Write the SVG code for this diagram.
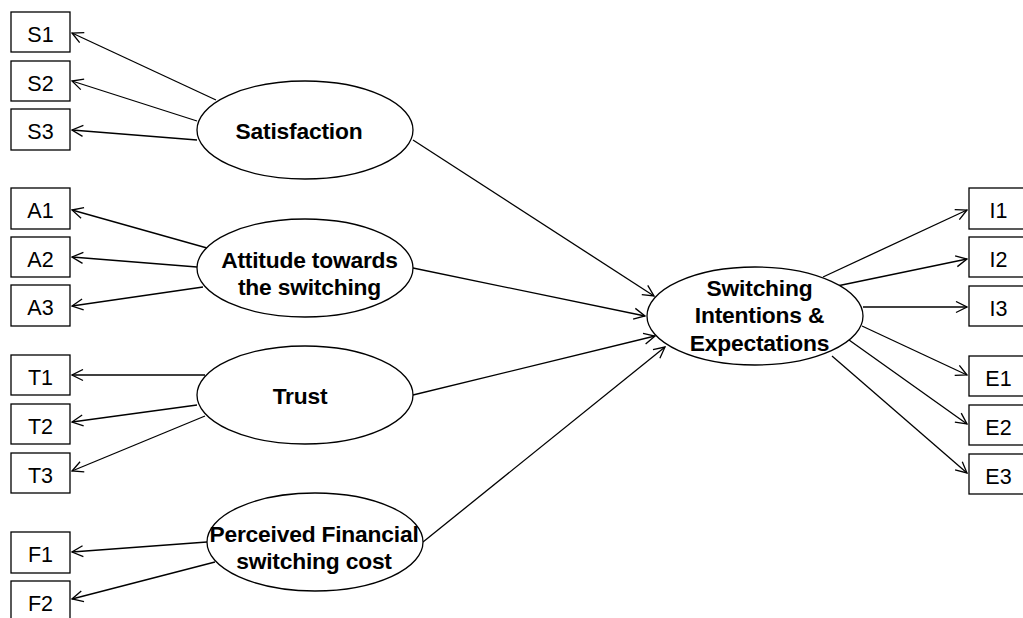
<svg xmlns="http://www.w3.org/2000/svg" width="1023" height="618" viewBox="0 0 1023 618">
  <style>
    .box { fill: #fff; stroke: #000; stroke-width: 1.3; }
    .latent { fill: #fff; stroke: #000; stroke-width: 1.3; }
    .ind { font-family: "Liberation Sans", Arial, sans-serif; font-size: 21.5px; text-anchor: middle; fill: #000; }
    .lbl { font-family: "Liberation Sans", Arial, sans-serif; font-size: 22.8px; font-weight: bold; text-anchor: middle; fill: #000; letter-spacing: -0.2px; }
    .edge { stroke: #000; stroke-width: 1.3; fill: none; marker-end: url(#open); }
  </style>
  <defs>
    <marker id="open" viewBox="0 0 13 13" refX="12" refY="6.5" markerWidth="13" markerHeight="13" markerUnits="userSpaceOnUse" orient="auto">
      <path d="M1,1 L12,6.5 L1,12" fill="none" stroke="#000" stroke-width="1.3"/>
    </marker>
  </defs>
  <rect width="1023" height="618" fill="#fff"/>

  <!-- connectors -->
  <g id="connectors">
    <!-- Satisfaction indicators -->
    <line class="edge" x1="216" y1="100" x2="72" y2="33"/>
    <line class="edge" x1="197" y1="121" x2="72" y2="81"/>
    <line class="edge" x1="197" y1="140" x2="72" y2="130"/>
    <!-- Attitude indicators -->
    <line class="edge" x1="207" y1="248" x2="72" y2="210"/>
    <line class="edge" x1="197" y1="267" x2="72" y2="257"/>
    <line class="edge" x1="203" y1="287" x2="72" y2="306"/>
    <!-- Trust indicators -->
    <line class="edge" x1="205" y1="375" x2="72" y2="375"/>
    <line class="edge" x1="197" y1="405" x2="72" y2="422"/>
    <line class="edge" x1="205" y1="416" x2="72" y2="471"/>
    <!-- Financial cost indicators -->
    <line class="edge" x1="207" y1="542" x2="72" y2="552"/>
    <line class="edge" x1="215" y1="562" x2="72" y2="599"/>
    <!-- structural paths -->
    <line class="edge" x1="413" y1="140" x2="654" y2="296"/>
    <line class="edge" x1="413" y1="268" x2="645" y2="316"/>
    <line class="edge" x1="413" y1="395" x2="655" y2="336"/>
    <line class="edge" x1="423" y1="542" x2="665" y2="347"/>
    <!-- outcome indicators -->
    <line class="edge" x1="823" y1="277" x2="967" y2="210"/>
    <line class="edge" x1="837" y1="286" x2="967" y2="259"/>
    <line class="edge" x1="863" y1="307" x2="967" y2="307"/>
    <line class="edge" x1="862" y1="326" x2="967" y2="375"/>
    <line class="edge" x1="842" y1="335" x2="967" y2="424"/>
    <line class="edge" x1="832" y1="356" x2="967" y2="473"/>
  </g>

  <!-- latent constructs -->
  <g id="satisfaction">
    <ellipse class="latent" cx="305" cy="130" rx="108" ry="49"/>
    <text class="lbl" x="299" y="139">Satisfaction</text>
  </g>
  <g id="attitude">
    <ellipse class="latent" cx="305" cy="268" rx="108" ry="49"/>
    <text class="lbl" x="309.5" y="268">Attitude towards</text>
    <text class="lbl" x="309.5" y="295">the switching</text>
  </g>
  <g id="trust">
    <ellipse class="latent" cx="305" cy="395" rx="108" ry="49"/>
    <text class="lbl" x="300" y="404">Trust</text>
  </g>
  <g id="financial-cost">
    <ellipse class="latent" cx="315" cy="542" rx="108" ry="49"/>
    <text class="lbl" x="314" y="542">Perceived Financial</text>
    <text class="lbl" x="314" y="569">switching cost</text>
  </g>
  <g id="switching">
    <ellipse class="latent" cx="755" cy="316" rx="108" ry="49"/>
    <text class="lbl" x="759.5" y="296">Switching</text>
    <text class="lbl" x="759.5" y="323">Intentions &amp;</text>
    <text class="lbl" x="759.5" y="351">Expectations</text>
  </g>

  <!-- indicators, left -->
  <g id="S1"><rect class="box" x="11" y="12" width="59" height="40"/><text class="ind" x="40.5" y="42">S1</text></g>
  <g id="S2"><rect class="box" x="11" y="61" width="59" height="40"/><text class="ind" x="40.5" y="91">S2</text></g>
  <g id="S3"><rect class="box" x="11" y="109" width="59" height="41"/><text class="ind" x="40.5" y="139">S3</text></g>
  <g id="A1"><rect class="box" x="11" y="188" width="59" height="41"/><text class="ind" x="40.5" y="218">A1</text></g>
  <g id="A2"><rect class="box" x="11" y="237" width="59" height="40"/><text class="ind" x="40.5" y="267">A2</text></g>
  <g id="A3"><rect class="box" x="11" y="285" width="59" height="41"/><text class="ind" x="40.5" y="315">A3</text></g>
  <g id="T1"><rect class="box" x="11" y="355" width="59" height="40"/><text class="ind" x="40.5" y="385">T1</text></g>
  <g id="T2"><rect class="box" x="11" y="404" width="59" height="40"/><text class="ind" x="40.5" y="434">T2</text></g>
  <g id="T3"><rect class="box" x="11" y="453" width="59" height="40"/><text class="ind" x="40.5" y="483">T3</text></g>
  <g id="F1"><rect class="box" x="11" y="532" width="59" height="41"/><text class="ind" x="40.5" y="562">F1</text></g>
  <g id="F2"><rect class="box" x="11" y="581" width="59" height="40"/><text class="ind" x="40.5" y="611">F2</text></g>

  <!-- indicators, right -->
  <g id="I1"><rect class="box" x="969" y="188" width="59" height="41"/><text class="ind" x="998.5" y="218">I1</text></g>
  <g id="I2"><rect class="box" x="969" y="237" width="59" height="40"/><text class="ind" x="998.5" y="267">I2</text></g>
  <g id="I3"><rect class="box" x="969" y="286" width="59" height="40"/><text class="ind" x="998.5" y="316">I3</text></g>
  <g id="E1"><rect class="box" x="969" y="356" width="59" height="40"/><text class="ind" x="998.5" y="386">E1</text></g>
  <g id="E2"><rect class="box" x="969" y="405" width="59" height="40"/><text class="ind" x="998.5" y="435">E2</text></g>
  <g id="E3"><rect class="box" x="969" y="454" width="59" height="40"/><text class="ind" x="998.5" y="484">E3</text></g>
</svg>
